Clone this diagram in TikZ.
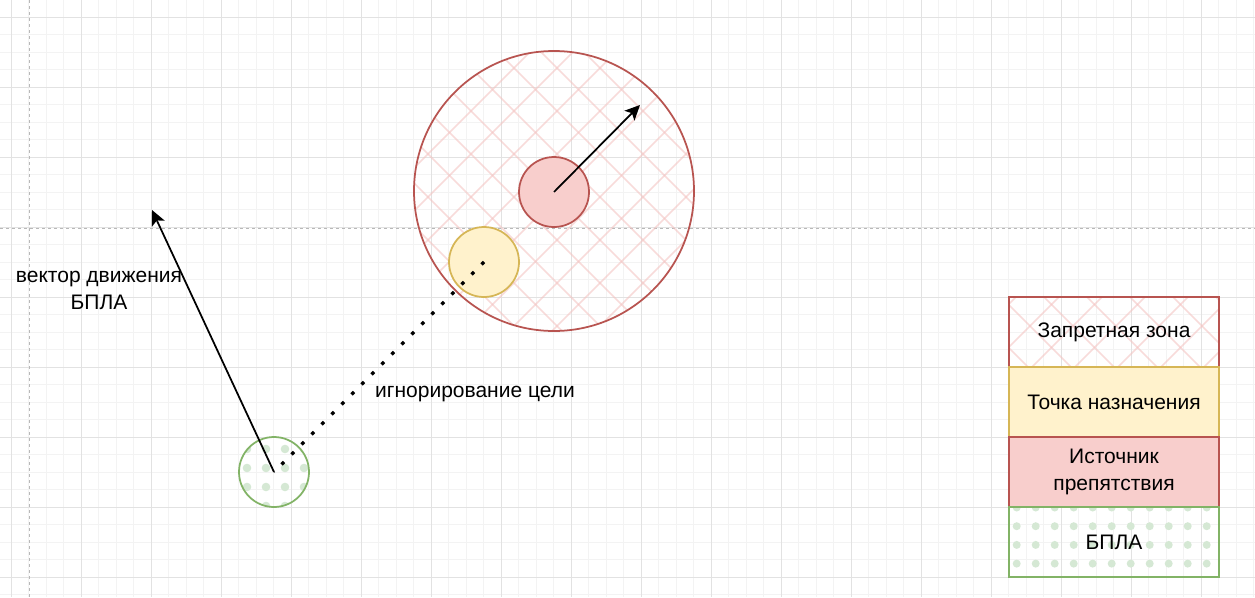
\documentclass[tikz,border=0pt]{standalone}
\usepackage{fontspec}
\setmainfont{Liberation Sans}
\usetikzlibrary{arrows.meta}
\definecolor{gridminor}{HTML}{F3F3F3}
\definecolor{gridmajor}{HTML}{E2E2E2}
\definecolor{pagegray}{HTML}{B8B8B8}
\definecolor{redS}{HTML}{B85450}
\definecolor{redF}{HTML}{F8CECC}
\definecolor{hatchC}{HTML}{F4C4C2}
\definecolor{yelS}{HTML}{D6B656}
\definecolor{yelF}{HTML}{FFF2CC}
\definecolor{grnS}{HTML}{82B366}
\definecolor{grnF}{HTML}{D5E8D4}
\tikzset{
  hatchline/.style={draw=hatchC, line width=1.6pt, opacity=0.6},
  dotmark/.style={fill=grnF},
  zone/.style={circle, draw=redS, line width=1.75pt, inner sep=0pt},
  legendbox/.style={rectangle, line width=1.75pt, minimum width=210pt, minimum height=70pt, inner sep=0pt, align=center},
  vecarrow/.style={draw=black, line width=1.75pt, -{Stealth[length=15pt,width=14pt,inset=3.5pt]}},
  lbl/.style={align=center, inner sep=0pt},
}
\newcommand{\hatchlattice}{%
  \foreach \k in {-12,...,20}{
    \draw[hatchline] ({274+43*\k},0) -- ({274+43*\k+597},597);
    \draw[hatchline] ({840+43*\k},0) -- ({840+43*\k-597},597);
  }}
\begin{document}
\begin{tikzpicture}[x=1pt,y=-1pt, font=\fontsize{21}{27}\selectfont]
\useasboundingbox (0,0) rectangle (1255,597);
\fill[white] (0,0) rectangle (1255,597);
% grid
\foreach \i in {0,...,71}{\draw[gridminor, line width=0.9pt] ({11+17.5*\i},0) -- ({11+17.5*\i},597);}
\foreach \i in {-1,...,34}{\draw[gridminor, line width=0.9pt] (0,{17.3+17.5*\i}) -- (1255,{17.3+17.5*\i});}
\foreach \i in {0,...,17}{\draw[gridmajor, line width=0.9pt] ({11+70*\i},0) -- ({11+70*\i},597);}
\foreach \i in {0,...,8}{\draw[gridmajor, line width=0.9pt] (0,{17.3+70*\i}) -- (1255,{17.3+70*\i});}
% page breaks
\draw[pagegray, line width=0.9pt, dash pattern=on 3pt off 3pt] (29,0) -- (29,597);
\draw[pagegray, line width=0.9pt, dash pattern=on 3pt off 3pt] (0,228) -- (1255,228);
% hatch of the no-fly zone
\begin{scope}
  \clip (554,191) circle[radius=140pt];
  \hatchlattice
\end{scope}
% hatch of the legend box
\begin{scope}
  \clip (1009,297) rectangle (1219,367);
  \hatchlattice
\end{scope}
% dots of the UAV
\begin{scope}
  \clip (274,472) circle[radius=35pt];
  \foreach \i in {-2,...,4}{\foreach \j in {-2,...,4}{
    \fill[dotmark] ({247+19*\i},{449+19*\j}) circle[radius=4.3pt];}}
\end{scope}
\begin{scope}
  \clip (1009,507) rectangle (1219,577);
  \foreach \i in {-1,...,11}{\foreach \j in {-1,...,4}{
    \fill[dotmark] ({1016.7+19*\i},{507.5+18.7*\j}) circle[radius=4pt];}}
\end{scope}
% zones
\node[zone, minimum size=280pt] (zone) at (554,191) {};
\node[zone, fill=redF, minimum size=70pt] (src) at (554,192) {};
\node[circle, draw=yelS, fill=yelF, line width=1.75pt, inner sep=0pt, minimum size=70pt] (dest) at (484,262) {};
\coordinate (srctip) at (640,105);
\draw[vecarrow] (src.center) -- (srctip);
\node[circle, draw=grnS, line width=1.75pt, inner sep=0pt, minimum size=70pt] (uav) at (274,472) {};
\draw[black, line width=3.4pt, dash pattern=on 3.4pt off 10.74pt] (dest.center) -- (uav.center);
\coordinate (uavtip) at (152,210);
\draw[vecarrow] (uav.center) -- (uavtip);
% labels
\node[lbl] (veclbl) at (99,290) {вектор движения\\БПЛА};
\node[lbl] (ignlbl) at (475,394) {игнорирование цели};
% legend
\node[legendbox, draw=redS] (lz) at (1114,332) {Запретная зона};
\node[legendbox, draw=yelS, fill=yelF] (ld) at (1114,402) {Точка назначения};
\node[legendbox, draw=redS, fill=redF] (ls) at (1114,472) {Источник\\препятствия};
\node[legendbox, draw=grnS] (lu) at (1114,542) {БПЛА};
\end{tikzpicture}
\end{document}
